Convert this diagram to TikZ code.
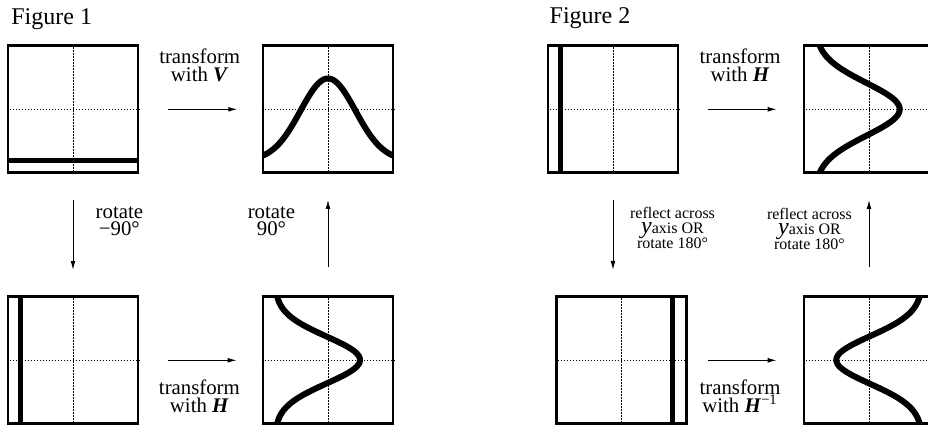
\documentclass[tikz,border=0pt]{standalone}
\usepackage{fontspec}
\setmainfont{Liberation Serif}
\usetikzlibrary{positioning, arrows.meta, calc}
\newcommand{\mvec}[1]{\textbf{\textit{#1}}}
\tikzset{
  panel/.style={draw, line width=1.35pt, minimum width=65pt, minimum height=63.5pt, inner sep=0pt},
  gridline/.style={line width=0.5pt, dash pattern=on 0.6pt off 0.9pt},
  bell/.style={line width=3pt},
  thickbar/.style={line width=2.5pt},
  flow/.style={line width=0.5pt, -{Latex[length=4.5pt, width=2.4pt]}},
  caption/.style={font=\fontsize{10.4}{9}\selectfont, align=center, inner sep=0pt},
  turnlabel/.style={font=\fontsize{10.4}{8.6}\selectfont, align=center, inner sep=0pt},
  smalllabel/.style={font=\fontsize{8}{7.5}\selectfont, align=center, inner sep=0pt},
  figtitle/.style={font=\fontsize{12}{14}\selectfont, anchor=base west, inner sep=0pt}
}
\begin{document}
\begin{tikzpicture}[x=0.5pt, y=-0.5pt]
  \path[use as bounding box, clip] (0,0) rectangle (928,426);
  % titles
  \node[figtitle] (title1) at (11,24.3) {Figure 1};
  \node[figtitle] (title2) at (549.3,24) {Figure 2};
  % Figure 1 panels
  \node[panel] (fig1a) at (73,109.3) {};
  \node[panel] (fig1b) at (328,109.3) {};
  \node[panel] (fig1c) at (73,360.3) {};
  \node[panel] (fig1d) at (328,360.3) {};
  % Figure 2 panels
  \node[panel] (fig2a) at (613,109.3) {};
  \node[panel] (fig2b) at (869,109.3) {};
  \node[panel] (fig2c) at (621.3,360.3) {};
  \node[panel] (fig2d) at (869,360.3) {};
  % dotted axes
  \foreach \p in {fig1a,fig1b,fig1c,fig1d,fig2a,fig2b,fig2c,fig2d} {
    \draw[gridline] (\p.north) -- (\p.south);
    \draw[gridline] (\p.west) -- (\p.east);
  }
  % straight traces
  \draw[thickbar] (7,160.7) -- (139,160.7);
  \draw[thickbar] (20.7,295.5) -- (20.7,424.5);
  \draw[thickbar] (560.7,45) -- (560.7,174);
  \draw[thickbar] (672.7,295) -- (672.7,424.5);
  % bell traces
  \draw[bell] plot[domain=263:393, samples=90, smooth] (\x, {160.5-82*exp(-((\x-328)^2)/1512)});
  \draw[bell] plot[domain=296.8:423.8, samples=90, smooth] ({275+85*exp(-((\x-360)^2)/1104)}, \x);
  \draw[bell] plot[domain=45.8:172.8, samples=90, smooth] ({815+84.7*exp(-((\x-109.3)^2)/1394)}, \x);
  \draw[bell] plot[domain=296.8:423.8, samples=90, smooth] ({922-85.7*exp(-((\x-360)^2)/1133)}, \x);
  % Figure 1 arrows
  \draw[flow] ([xshift=14.2pt]fig1a.east) -- node[caption, midway, above=13.5pt, xshift=-1.4pt] {transform\\with \mvec{V}} ([xshift=-12.2pt]fig1b.west);
  \draw[flow] ([xshift=14.2pt]fig1c.east) -- node[caption, midway, below=9.4pt, xshift=-1.4pt] {transform\\with \mvec{H}} ([xshift=-12.5pt]fig1d.west);
  \draw[flow] ([yshift=-12.9pt]fig1a.south) -- node[turnlabel, pos=0.52, anchor=south west, xshift=11.1pt] {rotate\\−90°} ([yshift=12.7pt]fig1c.north);
  \draw[flow] ([yshift=14.4pt]fig1d.north) -- node[turnlabel, pos=0.45, anchor=south east, xshift=-16.2pt] {rotate\\90°} ([yshift=-12.9pt]fig1b.south);
  % Figure 2 arrows
  \draw[flow] ([xshift=14.5pt]fig2a.east) -- node[caption, midway, above=13.5pt, xshift=-1.2pt] {transform\\with \mvec{H}} ([xshift=-13pt]fig2b.west);
  \draw[flow] ([xshift=10.3pt]fig2c.east) -- node[caption, midway, below=9.4pt, xshift=-1.2pt] {transform\\with \mvec{H}\textsuperscript{−1}} ([xshift=-13pt]fig2d.west);
  \draw[flow] ([yshift=-12.9pt]fig2a.south) -- node[smalllabel, pos=0.7, anchor=south west, xshift=8.3pt] {reflect across\\\smash{\fontsize{12}{12}\selectfont\textit{y}}axis OR\\rotate 180°} ($(fig2a.south |- fig2c.north)+(0,-25.45)$);
  \draw[flow] ([yshift=14.4pt]fig2d.north) -- node[smalllabel, pos=0.25, anchor=south east, xshift=-8.3pt] {reflect across\\\smash{\fontsize{12}{12}\selectfont\textit{y}}axis OR\\rotate 180°} ([yshift=-12.9pt]fig2b.south);
\end{tikzpicture}
\end{document}
